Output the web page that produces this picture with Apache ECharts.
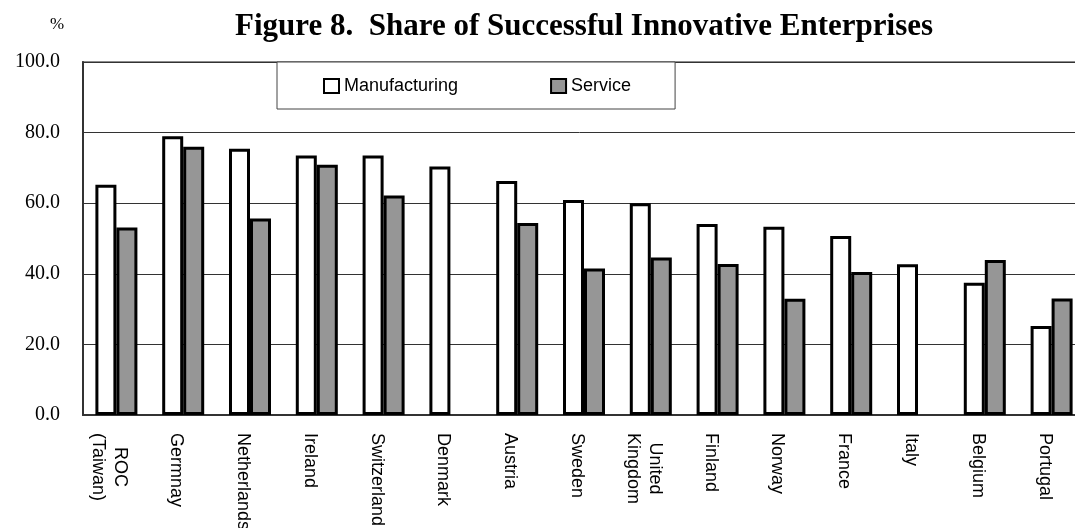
<!DOCTYPE html>
<html>
<head>
<meta charset="utf-8">
<script src="https://cdn.jsdelivr.net/npm/echarts@6/dist/echarts.min.js"></script>
<style>
html,body{margin:0;padding:0;background:#fff;}
#chart{width:1075px;height:528px;}
</style>
</head>
<body>
<div id="chart"></div>
<script>
// Data
var categories = ['ROC\n(Taiwan)', 'Germnay', 'Netherlands', 'Ireland', 'Switzerland', 'Denmark', 'Austria', 'Sweden', 'United\nKingdom', 'Finland', 'Norway', 'France', 'Italy', 'Belgium', 'Portugal'];
var manufacturing = [65.2, 79.0, 75.4, 73.5, 73.5, 70.4, 66.3, 60.9, 60.0, 54.1, 53.3, 50.7, 42.7, 37.5, 25.2];
var service = [53.1, 76.0, 55.7, 70.9, 62.2, null, 54.4, 41.5, 44.6, 42.8, 32.9, 40.5, null, 43.9, 33.0];
var yTicks = [0, 20, 40, 60, 80, 100];

var chart = echarts.init(document.getElementById('chart'), null, {renderer: 'canvas'});
var serif = "'Liberation Serif', 'Times New Roman', serif";
var sans = "'Liberation Sans', Arial, sans-serif";

chart.setOption({
  animation: false,
  backgroundColor: '#fff',
  title: [{
    text: 'Figure 8.  Share of Successful Innovative Enterprises',
    left: 230, top: 6,
    textStyle: {fontFamily: serif, fontWeight: 'bold', fontSize: 31, color: '#000'}
  }, {
    text: '%',
    left: 45, top: 11,
    textStyle: {fontFamily: serif, fontWeight: 'normal', fontSize: 17, color: '#000'}
  }],
  legend: {
    left: 277, top: 62,
    padding: [15, 44, 14, 46],
    itemGap: 92,
    itemWidth: 15, itemHeight: 14,
    backgroundColor: '#fff',
    borderColor: '#444', borderWidth: 1,
    textStyle: {fontFamily: sans, fontSize: 18, color: '#000'},
    icon: 'rect',
    data: ['Manufacturing', 'Service']
  },
  grid: {
    left: 83, width: 1002, top: 62, height: 353,
    outerBoundsMode: 'none',
    show: true, borderColor: '#8c8c8c', borderWidth: 2,
    containLabel: false
  },
  xAxis: {
    type: 'category',
    data: categories,
    axisLine: {lineStyle: {color: '#333', width: 2}},
    axisTick: {show: false},
    axisLabel: {
      interval: 0, rotate: -90, margin: 18,
      padding: [14, 0, 0, 0],
      color: '#000', fontFamily: sans, fontSize: 18,
      formatter: function (v) {
        return v.split('\n').map(function (s) { return '{c|' + s + '}'; }).join('\n');
      },
      rich: {c: {align: 'center', fontFamily: sans, fontSize: 18, lineHeight: 22, color: '#000'}}
    }
  },
  yAxis: {
    type: 'value',
    min: yTicks[0], max: yTicks[yTicks.length - 1], interval: 20,
    axisLine: {show: true, lineStyle: {color: '#333', width: 2}},
    axisTick: {show: true, inside: true, length: 7, lineStyle: {color: '#333'}},
    splitLine: {show: true, lineStyle: {color: '#333', width: 1}},
    axisLabel: {
      margin: 23, color: '#000', fontFamily: serif, fontSize: 20,
      formatter: function (v) { return v.toFixed(1); }
    }
  },
  series: [{
    name: 'Manufacturing', type: 'bar', data: manufacturing,
    barWidth: 21, barGap: '0%',
    itemStyle: {color: '#fff', borderColor: '#000', borderWidth: 3}
  }, {
    name: 'Service', type: 'bar', data: service,
    barWidth: 21,
    itemStyle: {color: '#969696', borderColor: '#000', borderWidth: 3}
  }]
});
</script>
</body>
</html>
